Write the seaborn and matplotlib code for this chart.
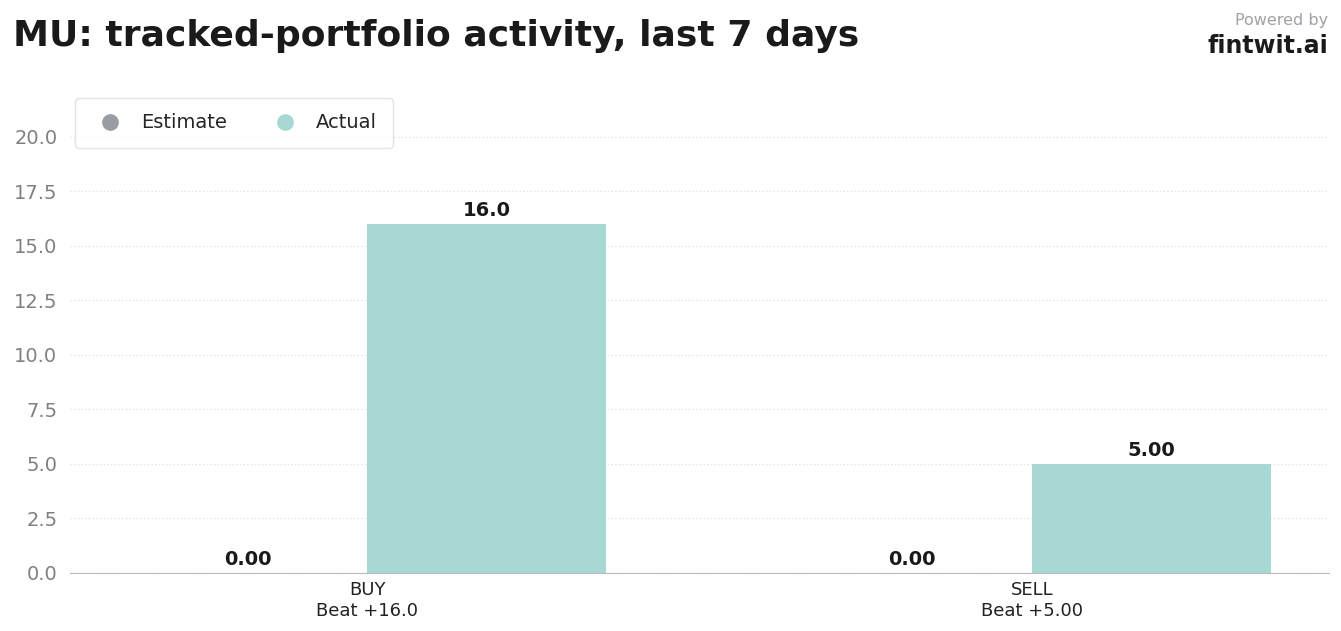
import pandas as pd
import matplotlib.pyplot as plt
import seaborn as sns

# dados do gráfico
categorias = ["BUY\nBeat +16.0", "SELL\nBeat +5.00"]
estimativas = [0.0, 0.0]
reais = [16.0, 5.0]
rotulos_est = ["0.00", "0.00"]
rotulos_real = ["16.0", "5.00"]

df = pd.DataFrame({
    "categoria": categorias * 2,
    "serie": ["Estimate"] * 2 + ["Actual"] * 2,
    "valor": estimativas + reais,
})

sns.set_style("white")
plt.rcParams['font.family'] = ['DejaVu Sans']

fig = plt.figure(figsize=(13.41, 6.31), dpi=100)
ax = fig.add_axes([70 / 1341, 1 - 573 / 631, 1259 / 1341, 480 / 631])

cores = {"Estimate": "#9a9ca3", "Actual": "#a8d8d4"}
sns.barplot(data=df, x="categoria", y="valor", hue="serie", palette=cores,
            width=0.72, gap=0, ax=ax, legend=False, saturation=1, linewidth=0)

ax.set_ylim(0, 22)
ax.set_xlim(-0.447, 1.447)
ax.set_yticks([0, 2.5, 5, 7.5, 10, 12.5, 15, 17.5, 20])
ax.set_yticklabels([f"{v:.1f}" for v in ax.get_yticks()])
ax.grid(axis="y", linestyle=":", color="#e3e3e3", linewidth=1)
ax.set_axisbelow(True)
for lado in ["top", "right", "left"]:
    ax.spines[lado].set_visible(False)
ax.spines["bottom"].set_color("#bbbbbb")
ax.tick_params(axis="y", labelsize=14, labelcolor="#808080", length=0, pad=9)
ax.tick_params(axis="x", labelsize=13, labelcolor="#222222", length=0, pad=6)
ax.set_xlabel("")
ax.set_ylabel("")

# rótulos das barras
for i in range(len(categorias)):
    ax.annotate(rotulos_est[i], (i - 0.18, estimativas[i]), xytext=(0, 3),
                textcoords="offset points", ha="center", va="bottom",
                fontsize=14, fontweight="bold", color="#1a1a1a")
    ax.annotate(rotulos_real[i], (i + 0.18, reais[i]), xytext=(0, 3),
                textcoords="offset points", ha="center", va="bottom",
                fontsize=14, fontweight="bold", color="#1a1a1a")

# legenda com marcadores circulares
handles = [plt.Line2D([], [], marker="o", linestyle="", markersize=11,
                      color=cores[s]) for s in ["Estimate", "Actual"]]
leg = ax.legend(handles, ["Estimate", "Actual"], ncol=2, loc="upper left",
                bbox_to_anchor=(-0.004, 1.01), fontsize=14, frameon=True,
                borderpad=0.8, columnspacing=2.0, handletextpad=0.6,
                fancybox=True)
leg.get_frame().set_edgecolor("#dddddd")

fig.text(13 / 1341, 1 - 36 / 631, "MU: tracked-portfolio activity, last 7 days",
         fontsize=26, fontweight="bold", color="#1a1a1a", va="center")
fig.text(1328 / 1341, 1 - 20 / 631, "Powered by", fontsize=11.5,
         color="#a0a0a8", ha="right", va="center")
fig.text(1328 / 1341, 1 - 46 / 631, "fintwit.ai", fontsize=17,
         fontweight="bold", color="#1a1a1a", ha="right", va="center")

fig.savefig("out.png", dpi=100)
